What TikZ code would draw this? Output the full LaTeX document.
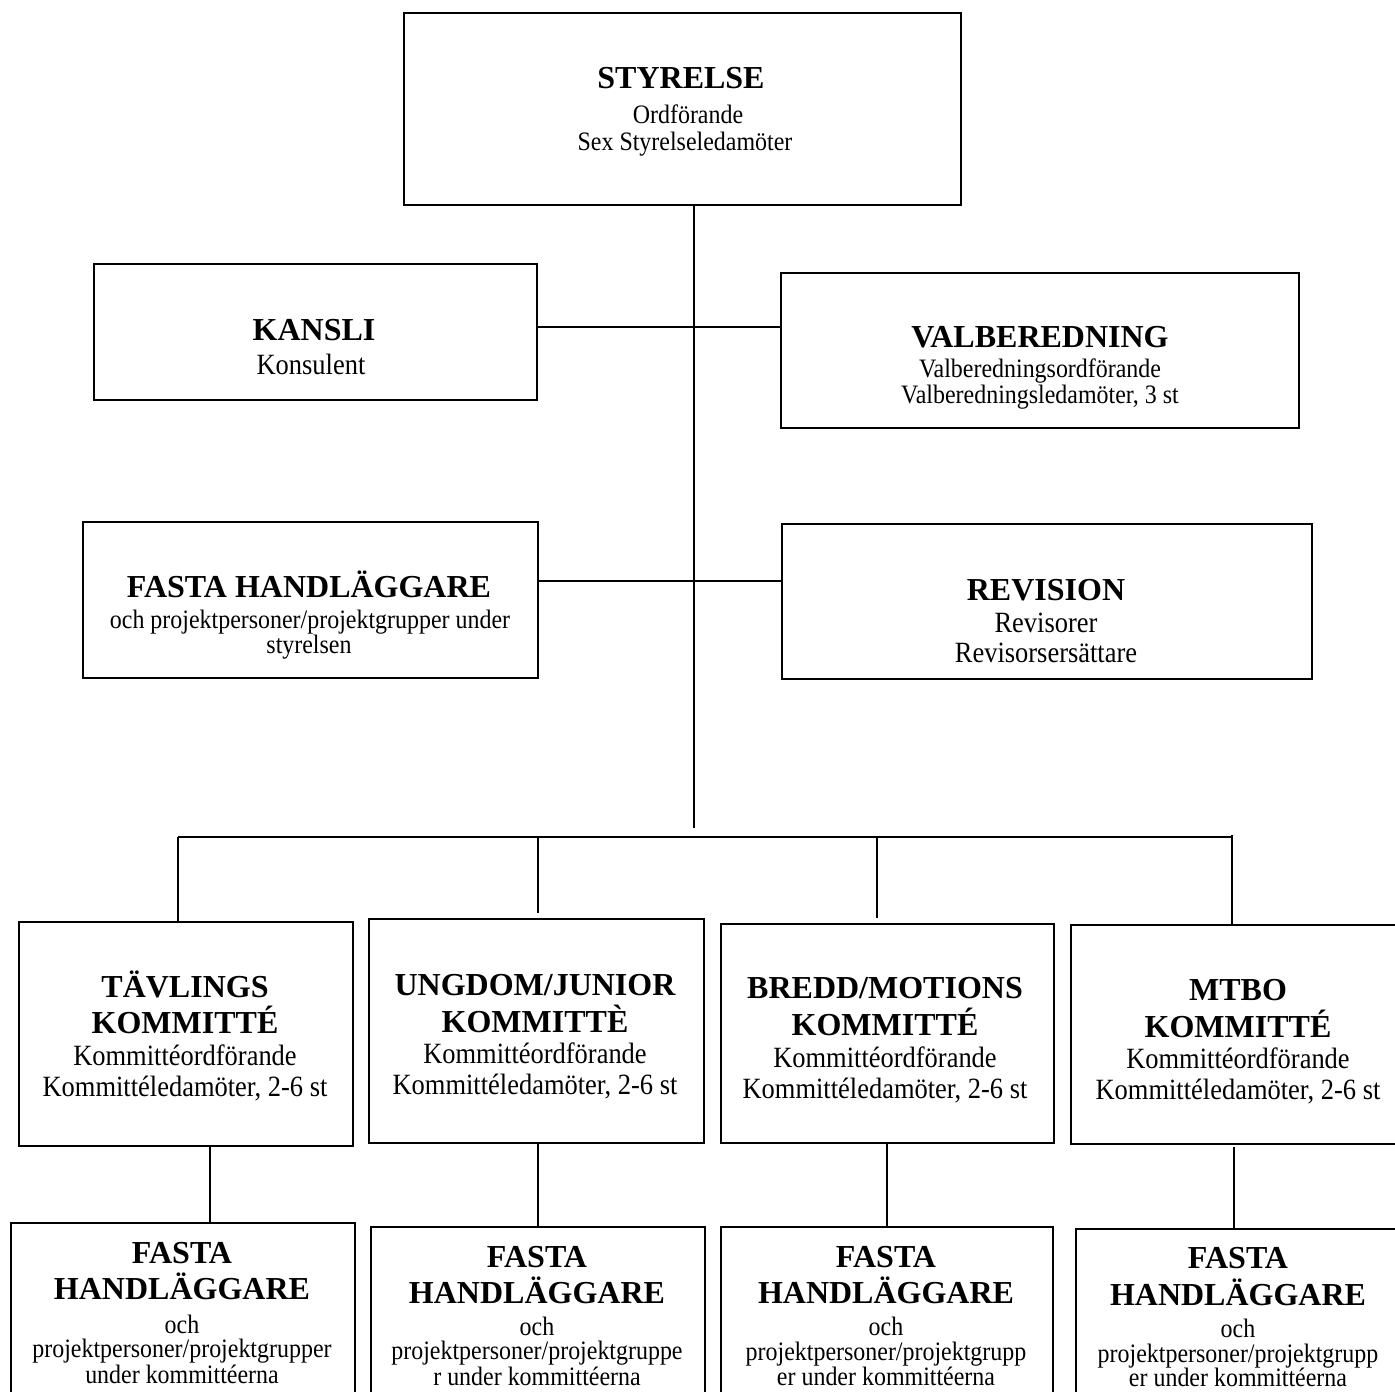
\documentclass[tikz,border=0pt]{standalone}
\usepackage{fontspec}
\setmainfont{Liberation Serif}
\newfontfamily\narrowserif[FakeStretch=0.9]{Liberation Serif}
\begin{document}
\begin{tikzpicture}[x=1pt,y=-1pt,
  box/.style={draw, line width=1.6pt, inner sep=0pt, anchor=north west},
  conn/.style={line width=1.4pt},
  hd/.style={font=\fontsize{32}{32}\selectfont\bfseries, anchor=base, inner sep=0pt},
  tx/.style={font=\narrowserif\fontsize{26.6}{26.6}\selectfont, anchor=base, inner sep=0pt},
  tl/.style={font=\narrowserif\fontsize{29.4}{29.4}\selectfont, anchor=base, inner sep=0pt}]
\useasboundingbox (0,0) rectangle (1395,1392);
\clip (0,0) rectangle (1395,1392);
\fill[white] (0,0) rectangle (1395,1392);

% ---- boxes
\node[box, minimum width=557pt, minimum height=192pt] (sty) at (403,12) {};
\node[box, minimum width=443pt, minimum height=136pt] (kansli) at (93,263) {};
\node[box, minimum width=518pt, minimum height=155pt] (valb) at (780,272) {};
\node[box, minimum width=455pt, minimum height=156pt] (fasta) at (82,521) {};
\node[box, minimum width=530pt, minimum height=155pt] (rev) at (781,523) {};
\node[box, minimum width=334pt, minimum height=224pt] (tav) at (18,921) {};
\node[box, minimum width=335pt, minimum height=224pt] (ung) at (368,918) {};
\node[box, minimum width=333pt, minimum height=219pt] (bre) at (720,923) {};
\node[box, minimum width=336pt, minimum height=219pt] (mtb) at (1070,924) {};
\node[box, minimum width=344pt, minimum height=200pt] (ftav) at (10,1222) {};
\node[box, minimum width=334pt, minimum height=200pt] (fung) at (370,1226) {};
\node[box, minimum width=332pt, minimum height=200pt] (fbre) at (720,1226) {};
\node[box, minimum width=326pt, minimum height=200pt] (fmtb) at (1075,1228) {};

% ---- connector coordinates
\coordinate (trunk) at (694,828);
\coordinate (row1) at (694,327);
\coordinate (row2) at (694,581);
\coordinate (barL) at (178,837);
\coordinate (barR) at (1232,837);
\coordinate (dU) at (538,836);
\coordinate (dUe) at (538,913);
\coordinate (dB) at (877,837);
\coordinate (dBe) at (877,918);
\coordinate (dM) at (1232,835);
\coordinate (lT) at (210,0);
\coordinate (lU) at (538,0);
\coordinate (lB) at (887,0);
\coordinate (lM) at (1234,0);

% ---- connectors
\draw[conn] (sty.south -| trunk) -- (trunk);
\draw[conn] (kansli.east |- row1) -- (valb.west |- row1);
\draw[conn] (fasta.east |- row2) -- (rev.west |- row2);
\draw[conn] (barL) -- (barR);
\draw[conn] (barL) -- (tav.north -| barL);
\draw[conn] (dU) -- (dUe);
\draw[conn] (dB) -- (dBe);
\draw[conn] (dM) -- (mtb.north -| dM);
\draw[conn] (tav.south -| lT) -- (ftav.north -| lT);
\draw[conn] (ung.south -| lU) -- (fung.north -| lU);
\draw[conn] (bre.south -| lB) -- (fbre.north -| lB);
\draw[conn] ([yshift=-2pt]mtb.south -| lM) -- ([yshift=-2pt]fmtb.north -| lM);

% ---- texts: top
\node[hd] (styA) at (681,88) {STYRELSE};
\node[tx] (styB) at (688,123) {Ordförande};
\node[tx] (styC) at (685,150) {Sex Styrelseledamöter};

\node[hd] (kanA) at (314,340) {KANSLI};
\node[tl] (kanB) at (311,374) {Konsulent};

\node[hd] (valA) at (1040,347) {VALBEREDNING};
\node[tx] (valB) at (1040,377) {Valberedningsordförande};
\node[tx] (valC) at (1040,403) {Valberedningsledamöter, 3 st};

\node[hd] (fasA) at (309,597) {FASTA HANDLÄGGARE};
\node[tx] (fasB) at (310,628) {och projektpersoner/projektgrupper under};
\node[tx] (fasC) at (309,653) {styrelsen};

\node[hd] (revA) at (1046,600) {REVISION};
\node[tl] (revB) at (1046,632) {Revisorer};
\node[tl] (revC) at (1046,662) {Revisorsersättare};

% ---- committees
\node[hd] (tavA) at (185,997) {TÄVLINGS};
\node[hd] (tavB) at (185,1033) {KOMMITTÉ};
\node[tl] (tavC) at (185,1065) {Kommittéordförande};
\node[tl] (tavD) at (185,1096) {Kommittéledamöter, 2-6 st};

\node[hd] (ungA) at (535,995) {UNGDOM/JUNIOR};
\node[hd] (ungB) at (535,1032) {KOMMITTÈ};
\node[tl] (ungC) at (535,1063) {Kommittéordförande};
\node[tl] (ungD) at (535,1094) {Kommittéledamöter, 2-6 st};

\node[hd] (breA) at (885,998) {BREDD/MOTIONS};
\node[hd] (breB) at (885,1035) {KOMMITTÉ};
\node[tl] (breC) at (885,1067) {Kommittéordförande};
\node[tl] (breD) at (885,1098) {Kommittéledamöter, 2-6 st};

\node[hd] (mtbA) at (1238,1000) {MTBO};
\node[hd] (mtbB) at (1238,1037) {KOMMITTÉ};
\node[tl] (mtbC) at (1238,1068) {Kommittéordförande};
\node[tl] (mtbD) at (1238,1099) {Kommittéledamöter, 2-6 st};

% ---- bottom boxes
\node[hd] (ftA) at (182,1263) {FASTA};
\node[hd] (ftB) at (182,1299) {HANDLÄGGARE};
\node[tx] (ftC) at (182,1333) {och};
\node[tx] (ftD) at (182,1357) {projektpersoner/projektgrupper};
\node[tx] (ftE) at (182,1383) {under kommittéerna};

\node[hd] (fuA) at (537,1267) {FASTA};
\node[hd] (fuB) at (537,1303) {HANDLÄGGARE};
\node[tx] (fuC) at (537,1335) {och};
\node[tx] (fuD) at (537,1359) {projektpersoner/projektgruppe};
\node[tx] (fuE) at (537,1385) {r under kommittéerna};

\node[hd] (fbA) at (886,1267) {FASTA};
\node[hd] (fbB) at (886,1303) {HANDLÄGGARE};
\node[tx] (fbC) at (886,1335) {och};
\node[tx] (fbD) at (886,1360) {projektpersoner/projektgrupp};
\node[tx] (fbE) at (886,1385) {er under kommittéerna};

\node[hd] (fmA) at (1238,1268) {FASTA};
\node[hd] (fmB) at (1238,1305) {HANDLÄGGARE};
\node[tx] (fmC) at (1238,1337) {och};
\node[tx] (fmD) at (1238,1362) {projektpersoner/projektgrupp};
\node[tx] (fmE) at (1238,1386) {er under kommittéerna};
\end{tikzpicture}
\end{document}
